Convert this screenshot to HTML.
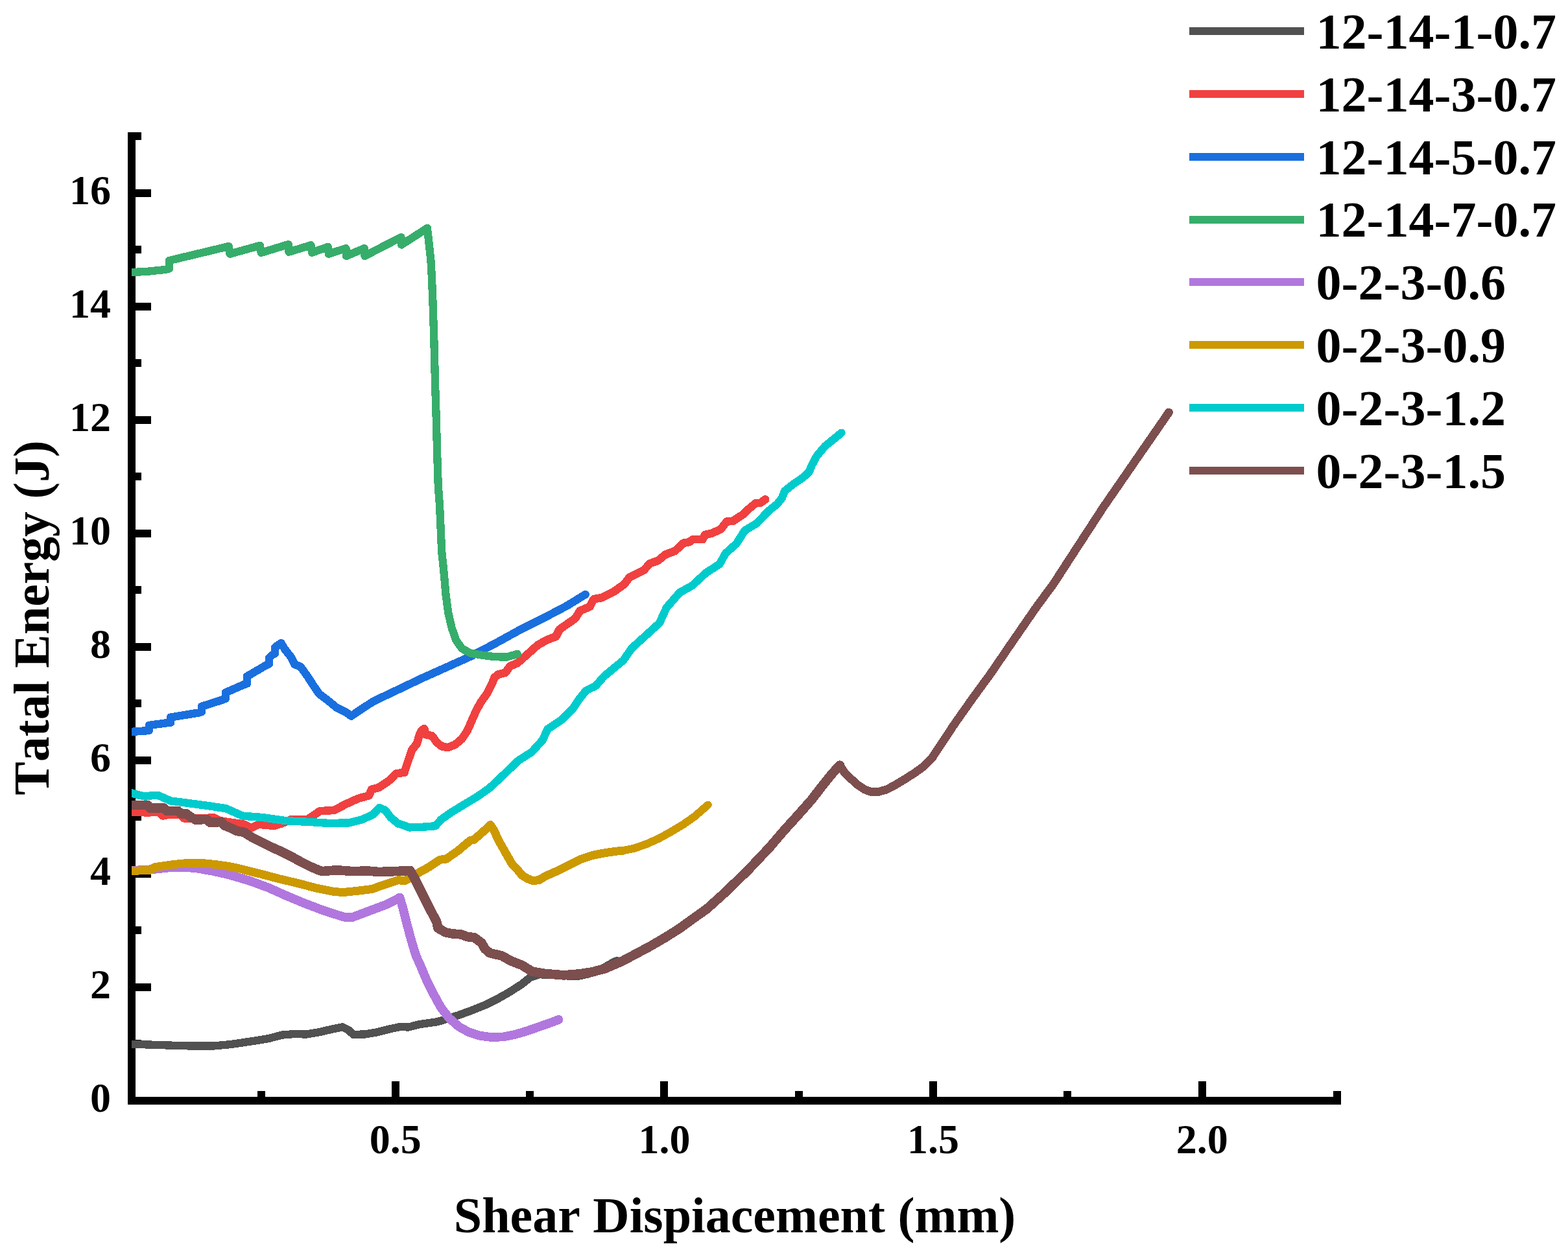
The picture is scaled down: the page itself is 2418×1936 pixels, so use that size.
<!DOCTYPE html>
<html lang="en">
<head>
<meta charset="utf-8">
<title>Total Energy vs Shear Displacement</title>
<style>
html,body{margin:0;padding:0;background:#fff;}
body{width:2418px;height:1936px;overflow:hidden;}
svg{display:block;}
text{font-family:"Liberation Serif",serif;font-weight:bold;fill:#000;font-kerning:none;}
.tk{font-size:64px;}
.lg{font-size:78px;}
.tt{font-size:78px;}
.c{fill:none;stroke-linejoin:round;stroke-linecap:round;}
</style>
</head>
<body>
<svg width="2418" height="1936" viewBox="0 0 2418 1936" shape-rendering="geometricPrecision">
<rect x="0" y="0" width="2418" height="1936" fill="#ffffff"/>
<defs><clipPath id="cp"><rect x="203" y="0" width="2215" height="1936"/></clipPath></defs>
<g fill="#000">
<rect x="197" y="204" width="12" height="1500"/>
<rect x="197" y="1692" width="1871" height="12"/>
<rect x="209" y="1604" width="9" height="12"/>
<rect x="209" y="1517" width="24" height="12"/>
<rect x="209" y="1429" width="9" height="12"/>
<rect x="209" y="1342" width="24" height="12"/>
<rect x="209" y="1254" width="9" height="12"/>
<rect x="209" y="1167" width="24" height="12"/>
<rect x="209" y="1079" width="9" height="12"/>
<rect x="209" y="992" width="24" height="12"/>
<rect x="209" y="904" width="9" height="12"/>
<rect x="209" y="817" width="24" height="12"/>
<rect x="209" y="729" width="9" height="12"/>
<rect x="209" y="642" width="24" height="12"/>
<rect x="209" y="554" width="9" height="12"/>
<rect x="209" y="467" width="24" height="12"/>
<rect x="209" y="379" width="9" height="12"/>
<rect x="209" y="292" width="24" height="12"/>
<rect x="209" y="204" width="9" height="12"/>
<rect x="397" y="1683" width="12" height="9"/>
<rect x="604" y="1668" width="12" height="24"/>
<rect x="811" y="1683" width="12" height="9"/>
<rect x="1018" y="1668" width="12" height="24"/>
<rect x="1226" y="1683" width="12" height="9"/>
<rect x="1433" y="1668" width="12" height="24"/>
<rect x="1640" y="1683" width="12" height="9"/>
<rect x="1848" y="1668" width="12" height="24"/>
<rect x="2056" y="1683" width="12" height="9"/>
</g>
<g class="tk" text-anchor="end">
<text x="171.0" y="1715.1">0</text>
<text x="171.0" y="1540.1">2</text>
<text x="171.0" y="1365.1">4</text>
<text x="171.0" y="1190.0">6</text>
<text x="171.0" y="1015.0">8</text>
<text x="171.0" y="840.0">10</text>
<text x="171.0" y="665.0">12</text>
<text x="171.0" y="490.0">14</text>
<text x="171.0" y="314.9">16</text>
</g>
<g class="tk" text-anchor="middle">
<text x="609.8" y="1778.5">0.5</text>
<text x="1024.5" y="1778.5">1.0</text>
<text x="1439.1" y="1778.5">1.5</text>
<text x="1853.8" y="1778.5">2.0</text>
</g>
<text class="tt" text-anchor="middle" x="1133.1" y="1900.6">Shear Dispiacement (mm)</text>
<text class="tt" style="font-size:77.6px" text-anchor="middle" transform="translate(74.6 953.0) rotate(-90)">Tatal Energy (J)</text>
<g clip-path="url(#cp)" shape-rendering="crispEdges">
<polyline class="c" stroke="#515151" stroke-width="12.3" points="203.0,1610.7 235.1,1611.7 266.2,1612.7 297.4,1613.6 330.5,1613.4 355.8,1611.1 394.8,1605.3 414.3,1602.0 435.7,1596.5 453.2,1595.1 472.7,1595.5 492.2,1592.2 511.7,1587.7 528.2,1584.4 537.0,1588.7 544.8,1595.9 562.3,1595.5 579.9,1592.6 599.4,1587.7 618.6,1583.7 629.7,1584.6 646.4,1580.3 674.2,1576.3 692.0,1571.0 707.6,1566.0 729.9,1557.7 748.4,1550.3 767.0,1541.0 785.5,1530.5 804.1,1518.6 818.0,1507.6 832.0,1503.2 850.0,1504.0 878.3,1505.6 893.0,1505.5 906.1,1502.6 918.0,1498.5 929.9,1493.6 939.1,1488.2 948.4,1483.3 951.5,1482.2"/>
<polyline class="c" stroke="#F14040" stroke-width="12.6" points="203.0,1252.2 218.6,1252.6 226.0,1253.7 244.5,1252.2 251.0,1258.4 259.4,1256.9 277.9,1256.5 283.5,1262.4 303.9,1262.4 329.9,1261.5 339.1,1266.2 376.2,1271.7 387.4,1277.3 398.5,1271.7 422.6,1273.9 435.6,1269.9 448.6,1264.3 474.6,1263.9 493.1,1251.3 515.4,1249.8 533.9,1240.2 552.5,1231.8 569.2,1227.2 572.9,1217.9 584.0,1215.1 600.8,1203.7 610.5,1193.5 623.5,1191.7 625.3,1186.1 630.9,1169.4 635.5,1156.4 643.0,1147.2 646.7,1134.2 649.5,1127.7 654.1,1124.0 656.9,1133.2 666.2,1135.1 673.6,1145.3 681.0,1151.2 690.3,1153.1 701.4,1149.0 712.5,1139.7 720.9,1126.8 727.4,1111.9 734.8,1095.2 742.2,1082.2 751.5,1069.2 758.0,1056.3 762.6,1045.1 768.2,1040.5 779.3,1037.7 786.8,1027.5 797.9,1022.9 812.7,1009.9 829.4,995.0 844.3,986.7 857.3,982.0 862.8,970.9 886.9,954.2 894.4,942.2 909.3,936.1 915.8,924.1 927.8,922.2 946.4,912.9 963.1,900.9 970.5,890.7 992.8,879.6 1002.0,869.4 1015.0,864.7 1026.2,855.4 1041.0,849.9 1054.0,837.8 1063.3,836.0 1068.8,831.9 1083.7,831.9 1087.4,824.8 1096.7,823.0 1111.5,816.5 1120.8,804.4 1130.1,803.9 1144.9,794.2 1156.0,784.0 1165.3,776.2 1172.7,775.7 1180.1,770.5"/>
<polyline class="c" stroke="#1A6FDF" stroke-width="12.4" points="203.0,1128.9 224.1,1127.4 229.7,1127.0 229.7,1118.9 257.5,1115.2 263.1,1114.8 263.1,1106.5 305.8,1099.6 311.0,1098.1 311.0,1089.8 342.9,1079.6 347.9,1077.7 347.9,1068.4 375.3,1056.4 380.9,1054.5 380.9,1043.4 409.6,1026.7 415.2,1023.9 415.2,1014.6 418.9,1010.9 423.9,1008.1 423.9,998.8 433.4,992.0 439.3,1001.6 449.5,1014.6 454.2,1024.8 463.4,1028.5 473.6,1042.4 483.8,1058.2 492.2,1070.3 504.3,1079.5 519.1,1091.6 533.9,1099.0 541.6,1104.6 563.6,1089.8 577.1,1081.3 614.2,1063.7 651.3,1046.0 688.4,1029.4 725.5,1012.7 762.6,993.2 799.7,972.8 836.8,954.2 873.9,934.7 902.6,917.1"/>
<polyline class="c" stroke="#37AD6B" stroke-width="12.3" points="203.0,420.1 226.2,418.9 255.1,415.9 260.9,414.4 260.9,402.0 352.8,380.0 354.6,391.7 401.0,378.8 402.8,389.9 444.6,377.0 445.4,388.7 479.6,378.2 481.0,389.7 505.7,380.9 506.9,391.7 533.5,383.1 534.1,394.9 561.8,383.1 562.4,394.9 618.5,365.9 619.1,377.6 658.9,351.9 661.9,378.2 664.5,402.4 666.0,430.0 667.5,467.0 669.3,522.7 671.2,596.8 672.8,646.9 674.3,704.3 675.8,750.0 678.1,780.8 681.2,851.3 684.3,880.0 687.5,917.1 691.2,944.9 696.8,969.1 703.3,987.6 712.5,1000.6 725.5,1007.6 744.1,1010.8 762.6,1013.2 781.2,1013.6 797.8,1008.9"/>
<polyline class="c" stroke="#B177DE" stroke-width="13.8" points="203.0,1343.0 237.0,1341.0 260.0,1338.5 281.6,1337.6 303.9,1339.4 329.9,1344.1 354.0,1349.6 385.5,1358.9 413.4,1369.2 441.2,1381.6 469.0,1393.2 496.8,1403.8 515.4,1409.9 530.2,1414.6 543.2,1415.1 561.8,1408.1 582.3,1400.4 597.1,1394.8 616.6,1384.6 621.2,1400.4 626.8,1422.6 634.2,1450.5 641.6,1474.6 648.2,1489.1 657.5,1511.3 668.6,1533.6 679.8,1554.0 692.8,1570.7 707.6,1583.7 722.4,1592.0 739.1,1597.6 757.7,1600.0 776.3,1599.4 794.8,1595.7 813.4,1590.2 831.9,1583.7 850.5,1577.2 861.6,1572.9"/>
<polyline class="c" stroke="#CC9900" stroke-width="13" points="203.0,1343.5 231.5,1342.2 239.0,1337.6 264.9,1333.9 291.8,1331.1 316.9,1332.0 337.3,1334.2 354.0,1336.7 367.0,1339.4 385.5,1344.1 404.1,1348.7 431.9,1356.1 459.7,1362.6 487.6,1370.0 515.4,1375.6 530.2,1376.5 552.5,1374.1 573.0,1371.6 597.1,1363.3 613.8,1357.7 624.9,1358.6 639.8,1349.4 662.0,1337.3 678.7,1326.2 688.0,1325.2 706.6,1312.2 725.1,1296.5 730.7,1295.5 745.5,1282.6 756.3,1272.4 762.2,1281.6 767.8,1294.6 775.2,1307.6 782.6,1320.6 790.0,1333.6 797.5,1341.0 804.9,1350.3 814.2,1355.8 821.6,1358.6 830.9,1357.7 842.0,1351.2 856.8,1344.7 875.4,1335.4 894.0,1326.2 912.5,1319.7 931.1,1316.0 949.6,1313.2 960.0,1312.4"/>
<polyline class="c" stroke="#CC9900" stroke-width="12.2" points="960.0,1312.4 978.6,1308.5 997.1,1302.0 1015.7,1293.7 1034.2,1283.5 1052.8,1272.4 1071.3,1259.4 1091.7,1241.7"/>
<polyline class="c" stroke="#00CBCC" stroke-width="12.4" points="203.0,1223.5 213.0,1226.3 224.1,1228.7 237.1,1226.8 244.5,1227.2 263.1,1235.5 292.8,1239.3 320.6,1243.0 348.4,1247.2 374.4,1258.7 404.1,1261.0 441.2,1266.2 478.3,1268.0 506.1,1269.9 537.7,1269.5 558.1,1264.3 574.8,1256.9 585.0,1246.0 594.3,1250.1 602.7,1261.2 613.8,1270.5 623.1,1273.3 630.5,1276.4 652.8,1275.7 671.3,1274.2 680.6,1264.0 693.6,1254.7 717.7,1239.9 736.3,1228.8 754.8,1215.8 770.0,1201.5 799.7,1173.1 820.1,1160.1 836.8,1141.6 844.3,1124.9 866.5,1110.1 883.2,1093.4 892.5,1079.4 903.6,1065.5 918.5,1058.1 931.5,1043.3 961.2,1018.7 974.2,1000.1 996.5,979.7 1016.9,961.2 1028.0,937.1 1048.4,913.9 1067.0,903.7 1089.2,883.3 1109.6,870.3 1118.9,853.6 1135.6,838.7 1148.6,818.3 1167.1,807.2 1185.7,787.7 1198.7,777.5 1205.7,768.4 1210.3,757.3 1224.2,746.2 1238.1,736.9 1247.4,728.5 1252.0,717.4 1259.5,703.5 1272.4,688.2 1279.9,682.2 1297.5,667.8"/>
<polyline class="c" stroke="#7D4E4E" stroke-width="14.6" points="203.0,1242.0 227.8,1242.0 231.5,1246.7 251.9,1246.1 257.5,1250.9 274.2,1250.9 279.8,1255.4 287.2,1255.4 294.6,1260.6 302.0,1264.7 318.7,1263.9 324.3,1268.9 341.0,1268.0 346.6,1273.6 355.8,1277.3 365.1,1281.9 376.3,1283.8 389.2,1292.1 404.1,1299.6 418.9,1307.0 433.8,1313.5 448.6,1320.9 463.5,1329.2 478.3,1336.7 491.3,1342.2 496.8,1344.1 519.1,1342.2 543.2,1344.1 567.3,1343.5 584.0,1345.0 600.0,1344.5 615.7,1343.8 632.4,1342.9 639.8,1355.8 652.8,1381.8 663.9,1404.1 673.2,1421.7 675.5,1431.7 686.7,1438.2 697.8,1440.5 710.8,1441.4 721.0,1445.2 731.2,1446.1 742.4,1454.4 747.9,1463.7 755.3,1470.2 773.9,1474.4 786.8,1481.8 805.4,1489.2 820.2,1498.5 838.8,1501.7 869.0,1504.4 895.4,1502.2 914.0,1499.2 932.5,1494.3 951.0,1486.4 960.0,1482.5 978.6,1472.6 1002.7,1459.7 1024.9,1446.8 1047.2,1432.8 1067.6,1418.0 1089.9,1402.2 1117.7,1377.2 1153.0,1342.9 1186.4,1307.6 1209.3,1280.8 1230.7,1257.3 1251.2,1234.1 1268.6,1211.6 1283.5,1193.1 1295.1,1180.6"/>
<polyline class="c" stroke="#7D4E4E" stroke-width="12.8" points="1295.1,1180.6 1302.0,1191.2 1311.3,1200.5 1322.4,1210.7 1333.6,1218.1 1342.9,1221.4 1353.1,1221.8 1367.0,1218.1 1380.9,1210.7 1394.8,1202.4 1411.3,1191.8 1423.1,1183.2 1437.0,1169.8 1448.6,1152.0 1461.1,1133.5 1469.0,1121.2 1486.5,1096.2 1500.0,1077.1 1513.5,1058.6 1527.4,1039.6 1555.8,998.0 1578.0,965.8 1597.9,937.0 1625.0,900.2 1650.0,861.5 1701.5,782.4 1758.0,700.5 1802.5,636.1"/>
</g>
<rect x="1834" y="42" width="177" height="12" fill="#515151"/>
<text class="lg" x="2029.5" y="74.9">12-14-1-0.7</text>
<rect x="1834" y="139" width="177" height="12" fill="#F14040"/>
<text class="lg" x="2029.5" y="171.8">12-14-3-0.7</text>
<rect x="1834" y="236" width="177" height="12" fill="#1A6FDF"/>
<text class="lg" x="2029.5" y="268.6">12-14-5-0.7</text>
<rect x="1834" y="333" width="177" height="12" fill="#37AD6B"/>
<text class="lg" x="2029.5" y="365.4">12-14-7-0.7</text>
<rect x="1834" y="429" width="177" height="12" fill="#B177DE"/>
<text class="lg" x="2029.5" y="462.3">0-2-3-0.6</text>
<rect x="1834" y="526" width="177" height="12" fill="#CC9900"/>
<text class="lg" x="2029.5" y="559.1">0-2-3-0.9</text>
<rect x="1834" y="623" width="177" height="12" fill="#00CBCC"/>
<text class="lg" x="2029.5" y="656.0">0-2-3-1.2</text>
<rect x="1834" y="720" width="177" height="12" fill="#7D4E4E"/>
<text class="lg" x="2029.5" y="752.8">0-2-3-1.5</text>
</svg>
</body>
</html>
